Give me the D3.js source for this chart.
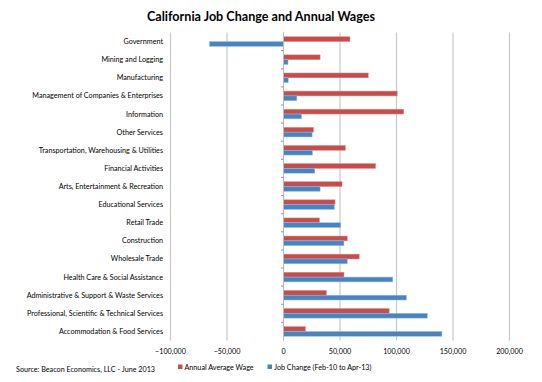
<!DOCTYPE html>
<html>
<head>
<meta charset="utf-8">
<script src="https://cdn.jsdelivr.net/npm/d3@7"></script>
<style>
  html, body { margin: 0; padding: 0; background: #fff; }
  svg { display: block; font-family: Lato, "Open Sans", sans-serif; }
</style>
</head>
<body>
<svg id="chart" width="542" height="382"></svg>
<script>
const categories = [
  "Government",
  "Mining and Logging",
  "Manufacturing",
  "Management of Companies & Enterprises",
  "Information",
  "Other Services",
  "Transportation, Warehousing & Utilities",
  "Financial Activities",
  "Arts, Entertainment & Recreation",
  "Educational Services",
  "Retail Trade",
  "Construction",
  "Wholesale Trade",
  "Health Care & Social Assistance",
  "Administrative & Support & Waste Services",
  "Professional, Scientific & Technical Services",
  "Accommodation & Food Services"
];
const annualWage = [58800, 32400, 75000, 100600, 106400, 26500, 54700, 81500, 51800, 45600, 31800, 56400, 67000, 53500, 37900, 93500, 19400];
const jobChange = [-65500, 4000, 4200, 11800, 15900, 25300, 25600, 27700, 32400, 45000, 50600, 53500, 56400, 96700, 108800, 127300, 140200];
const xTicks = [-100000, -50000, 0, 50000, 100000, 150000, 200000];
const seriesNames = ["Annual Average Wage", "Job Change (Feb-10 to Apr-13)"];
const seriesColors = ["#c0504d", "#4f81bd"];
const title = "California Job Change and Annual Wages";
const source = "Source: Beacon Economics, LLC - June 2013";

const svg = d3.select("#chart");
const pLeft = 170.5, pRight = 509.5, pTop = 32.5, pBottom = 340.5;
const fs = 7.2;

const x = d3.scaleLinear().domain([-100000, 200000]).range([pLeft, pRight]);
const y = d3.scaleBand().domain(categories).range([pTop, pBottom]).paddingInner(0).paddingOuter(0);
const bandH = y.bandwidth();
const barH = bandH * 0.265;

// title
svg.append("text").attr("x", 261).attr("y", 21).attr("text-anchor", "middle")
  .attr("font-size", 12.6).attr("font-weight", "bold").attr("fill", "#000").text(title);

// gridlines
svg.append("g").selectAll("line").data(xTicks).join("line")
  .attr("x1", d => x(d)).attr("x2", d => x(d))
  .attr("y1", pTop).attr("y2", pBottom)
  .attr("stroke", "#c8c8c8").attr("stroke-width", 1.2);

// bars
const series = [annualWage, jobChange];
series.forEach((vals, si) => {
  svg.append("g").selectAll("rect").data(categories).join("rect")
    .attr("x", (d, i) => x(Math.min(0, vals[i])))
    .attr("width", (d, i) => Math.abs(x(vals[i]) - x(0)))
    .attr("y", d => y(d) + bandH / 2 - barH + si * barH)
    .attr("height", barH)
    .attr("fill", seriesColors[si])
    .attr("stroke", d3.color(seriesColors[si]).brighter(1.2))
    .attr("stroke-width", 0.5);
});

// category axis at zero
const ya = svg.append("g").attr("transform", `translate(${x(0)},0)`)
  .call(d3.axisLeft(y).tickSize(0).tickFormat(""));
ya.select(".domain").attr("stroke", "#bbb").attr("d", `M0,${pTop}V${pBottom}`);
ya.selectAll(".tick").remove();
// axis tick marks at band boundaries
svg.append("g").selectAll("line").data(categories.slice(1)).join("line")
  .attr("x1", x(0) - 2.5).attr("x2", x(0))
  .attr("y1", d => y(d)).attr("y2", d => y(d))
  .attr("stroke", "#999");

// category labels
svg.append("g").selectAll("text").data(categories).join("text")
  .attr("x", 163).attr("y", d => y(d) + bandH / 2)
  .attr("dy", "0.35em").attr("text-anchor", "end")
  .attr("font-size", fs).attr("fill", "#000").text(d => d);

// x tick labels
const fmt = d3.format(",");
svg.append("g").selectAll("text").data(xTicks).join("text")
  .attr("x", d => x(d)).attr("y", 351).attr("dy", "0.35em")
  .attr("text-anchor", "middle").attr("font-size", fs).attr("fill", "#000")
  .text(d => fmt(d));

// legend
const legX = [178, 267.5];
seriesNames.forEach((n, i) => {
  svg.append("rect").attr("x", legX[i]).attr("y", 364.5).attr("width", 4.5).attr("height", 4.5)
    .attr("fill", seriesColors[i]);
  svg.append("text").attr("x", legX[i] + 6.5).attr("y", 367).attr("dy", "0.35em")
    .attr("font-size", fs).attr("fill", "#000").text(n);
});

// source
svg.append("text").attr("x", 16).attr("y", 369.5).attr("dy", "0.35em")
  .attr("font-size", fs).attr("fill", "#000").text(source);
</script>
</body>
</html>
